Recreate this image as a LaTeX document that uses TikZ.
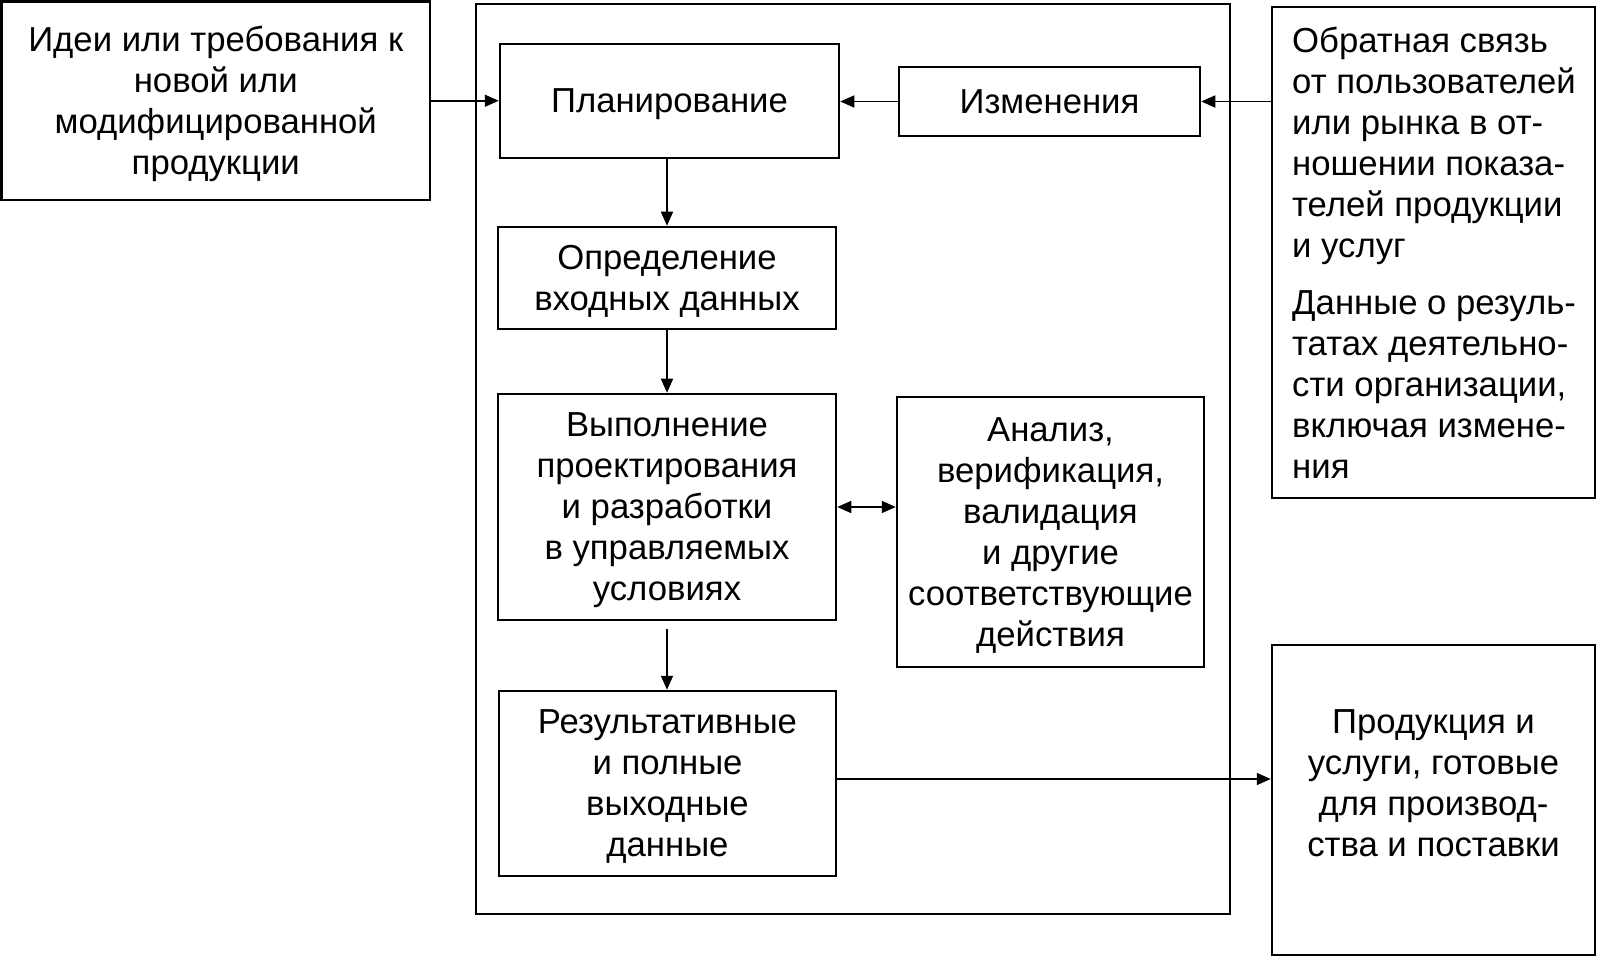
\documentclass[tikz,border=0pt]{standalone}
\usepackage{fontspec}
\setmainfont{Liberation Sans}
\usetikzlibrary{arrows.meta}
\begin{document}
\begin{tikzpicture}[x=1pt,y=-1pt,
  box/.style={draw, line width=2.5pt, inner sep=0pt, align=center, text depth=0pt, font=\fontsize{34.7}{41}\selectfont},
  frame/.style={draw, line width=1.6pt, inner sep=0pt},
  txt/.style={inner sep=0pt, align=center, text depth=0pt, font=\fontsize{34.7}{41}\selectfont},
  arr/.style={line width=1.6pt, -{Triangle[length=14pt,width=12pt]}},
  darr/.style={line width=1.6pt, {Triangle[length=14pt,width=12pt]}-{Triangle[length=14pt,width=12pt]}}
]
\useasboundingbox (0,0) rectangle (1598,957);
\node[frame, minimum width=754pt, minimum height=910pt] (frm) at (853,459) {};
\node[box, minimum width=428.5pt, minimum height=198.5pt] (idea) at (215.75,100.75)
  {Идеи или требования к\\новой или\\модифицированной\\продукции};
\node[box, minimum width=339pt, minimum height=114pt] (plan) at (669.5,101) {Планирование};
\node[box, minimum width=301pt, minimum height=69pt] (izm) at (1049.5,101.5) {Изменения};
\node[box, minimum width=338pt, minimum height=102pt] (opr) at (667,278) {Определение\\входных данных};
\node[box, minimum width=338pt, minimum height=226pt] (des) at (667,507)
  {Выполнение\\проектирования\\и разработки\\в управляемых\\условиях};
\node[box, minimum width=307pt, minimum height=270pt] (an) at (1050.5,532)
  {Анализ,\\верификация,\\валидация\\и другие\\соответствующие\\действия};
\node[box, minimum width=337pt, minimum height=185pt] (res) at (667.5,783.5)
  {Результативные\\и полные\\выходные\\данные};
\node[box, minimum width=323pt, minimum height=491pt] (fb) at (1433.5,252.5) {};
\node[txt, align=left, anchor=west] (fbtxt) at (1292,252.5)
  {Обратная связь\\от пользователей\\или рынка в от-\\ношении показа-\\телей продукции\\и услуг\\[16pt]Данные о резуль-\\татах деятельно-\\сти организации,\\включая измене-\\ния};
\node[box, minimum width=323pt, minimum height=310pt] (prod) at (1433.5,800) {};
\node[txt] (prodtxt) at (1433.5,783) {Продукция и\\услуги, готовые\\для производ-\\ства и поставки};
\draw[arr] (idea.east) -- (idea.east -| plan.west);
\draw[arr] (izm.west) -- (izm.west -| plan.east);
\draw[arr] (izm.east -| fb.west) -- (izm.east);
\draw[arr] (opr.north |- plan.south) -- (opr.north);
\draw[arr] (opr.south) -- (des.north);
\draw[arr, shorten <=8pt] (des.south) -- (des.south |- res.north);
\draw[darr] (des.east) -- (des.east -| an.west);
\coordinate (outp) at ([yshift=4.5pt]res.east);
\draw[arr] (outp) -- (outp -| prod.west);
\end{tikzpicture}
\end{document}
